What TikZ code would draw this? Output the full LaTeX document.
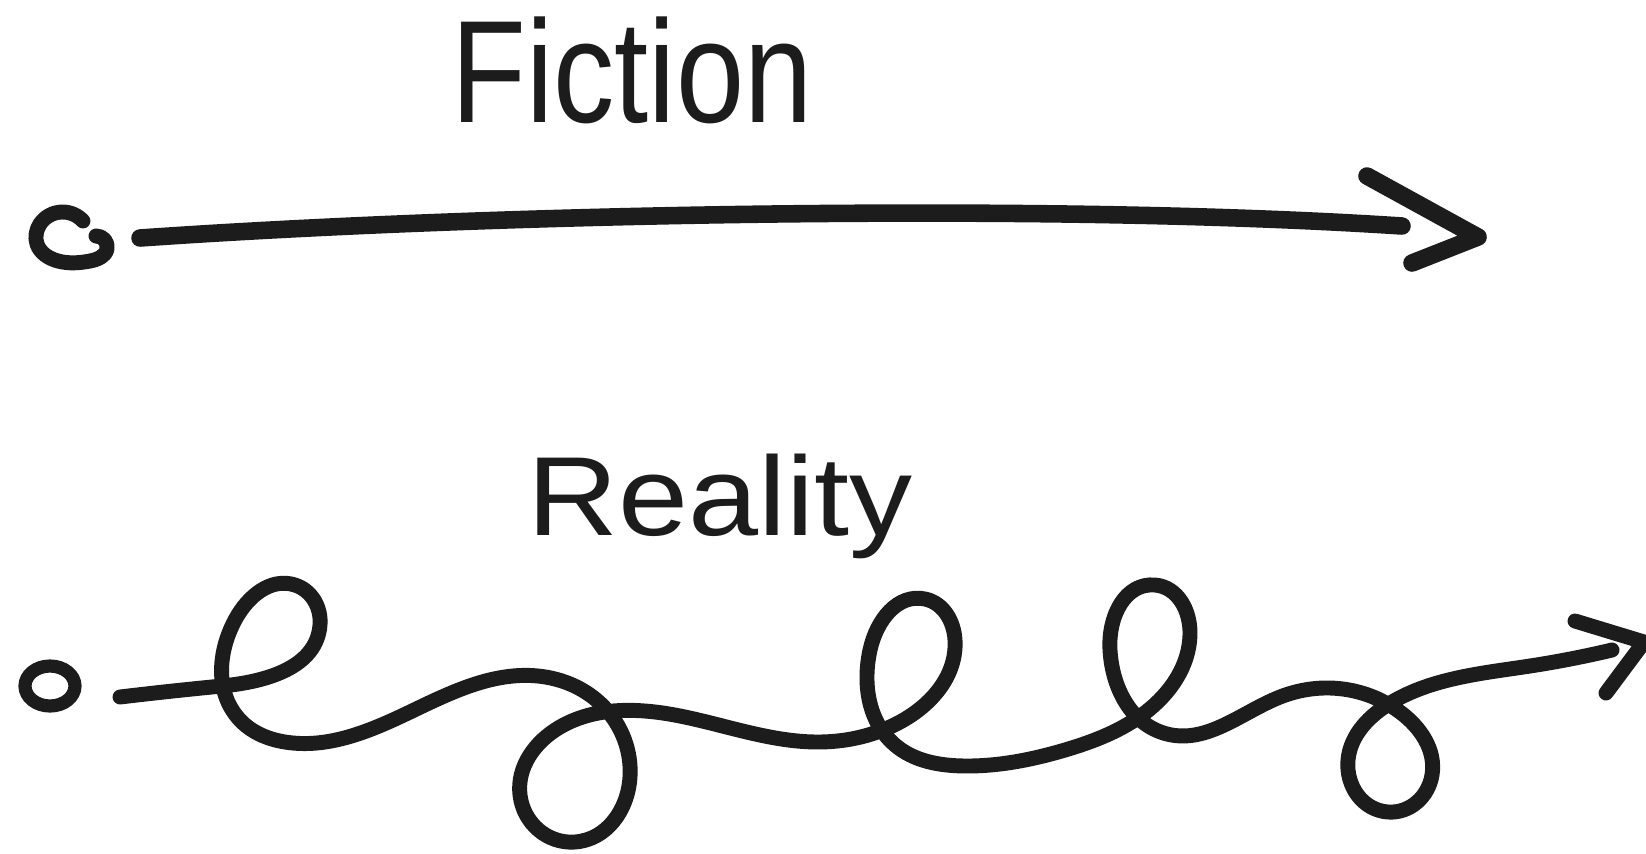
\documentclass[tikz,border=0pt]{standalone}
\usepackage{fontspec}
\setmainfont{Liberation Sans}
\usetikzlibrary{shapes.geometric,hobby}
\definecolor{ink}{HTML}{1C1C1C}
\tikzset{
  marker/.style={draw=ink, line width=10pt, line cap=round, line join=round},
  thinmarker/.style={draw=ink, line width=8.5pt, line cap=round, line join=round},
  label/.style={text=ink, anchor=base, inner sep=0pt},
}
\begin{document}
\begin{tikzpicture}[x=0.02cm, y=-0.02cm, use Hobby shortcut]
\useasboundingbox (0,0) rectangle (1646,853);
\fill[white] (0,0) rectangle (1646,853);

% ---------- Fiction ----------
\node[label] (fiction) at (632,122) {\scalebox{0.84}[1]{\fontsize{83}{90}\selectfont Fiction}};

\coordinate (c1) at (83,221);
\coordinate (c2) at (96,236);
\draw[thinmarker] (c1) .. (62,212) .. (40,224) .. (37,244) .. (58,261) .. (90,261) .. (107,249) .. (c2);
\coordinate (a0) at (140,238);
\coordinate (a1) at (1402,226);
\draw[marker] (a0) .. controls (500,213) and (1050,203) .. (a1);
\coordinate (h1top) at (1367,176);
\coordinate (h1tip) at (1478,237);
\coordinate (h1bot) at (1412,263);
\draw[marker] (h1top) -- (h1tip) -- (h1bot);

% ---------- Reality ----------
\node[label] (reality) at (720,535) {\scalebox{1.12}[1]{\fontsize{64}{70}\selectfont Reality}};

\node[draw=ink, line width=7.5pt, ellipse, minimum width=1.0cm, minimum height=0.8cm, inner sep=0pt] (o2) at (50,686) {};
\coordinate (b0) at (120,697);
\coordinate (b1) at (1612,650);
\draw[thinmarker] (b0) .. (222,686) .. (320,625) .. (295,585) .. (235,620) .. (240,720) .. (285,742)
 .. (410,712) .. (538,676) .. (604,707) .. (630,777) .. (575,842) .. (520,795) .. (560,727)
 .. (680,716) .. (820,742) .. (900,722) .. (955,640) .. (925,599) .. (870,650) .. (895,745)
 .. (965,766) .. (1065,750) .. (1146,712) .. (1190,635) .. (1155,585) .. (1110,650) .. (1167,734)
 .. (1280,697) .. (1330,688) .. (1400,712) .. (1432,775) .. (1388,812) .. (1348,760) .. (1392,702)
 .. (1530,666) .. (b1);
\coordinate (h2top) at (1575,621);
\coordinate (h2tip) at (1644,642);
\coordinate (h2bot) at (1606,693);
\draw[thinmarker] (h2top) -- (h2tip) -- (h2bot);
\end{tikzpicture}
\end{document}
